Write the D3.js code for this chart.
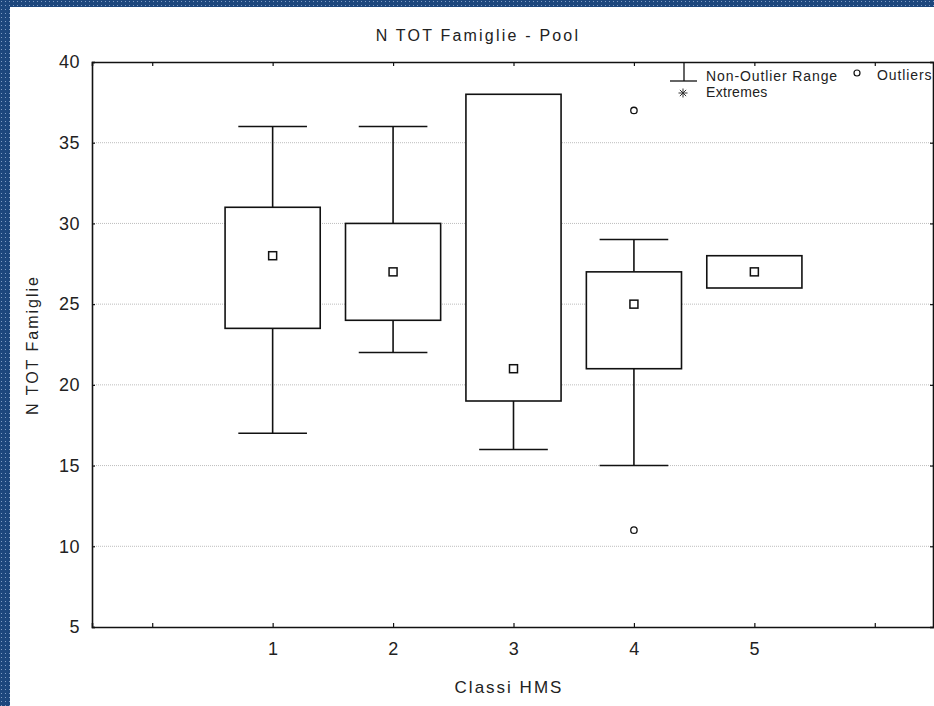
<!DOCTYPE html>
<html>
<head>
<meta charset="utf-8">
<script src="https://cdn.jsdelivr.net/npm/d3@7/dist/d3.min.js"></script>
<style>
  html, body { margin: 0; padding: 0; background: #fff; }
  svg { display: block; }
  text { font-family: "Liberation Sans", Arial, sans-serif; fill: #222; }
</style>
</head>
<body>
<svg id="chart" width="934" height="706"></svg>
<script>
// Box plot data per class
const categories = [1, 2, 3, 4, 5];
const medians    = [28, 27, 21, 25, 27];
const boxLow     = [23.5, 24, 19, 21, 26];
const boxHigh    = [31, 30, 38, 27, 28];
const whiskLow   = [17, 22, 16, 15, 26];
const whiskHigh  = [36, 36, 38, 29, 28];
const outliers   = [[], [], [], [37, 11], []];
const yTicks     = [5, 10, 15, 20, 25, 30, 35, 40];
const xTicks     = [0, 1, 2, 3, 4, 5, 6];

const svg = d3.select("#chart");
const W = 934, H = 706;

// Window frame (dark blue dotted border on left and top)
const defs = svg.append("defs");
const pat = defs.append("pattern").attr("id", "frameDots")
  .attr("width", 4).attr("height", 4).attr("patternUnits", "userSpaceOnUse");
pat.append("rect").attr("width", 4).attr("height", 4).attr("fill", "#1d477d");
pat.append("rect").attr("x", 1).attr("y", 1).attr("width", 1).attr("height", 1).attr("fill", "#7f9cc4");
svg.append("rect").attr("x", 0).attr("y", 0).attr("width", W).attr("height", H).attr("fill", "#fff");
svg.append("rect").attr("x", 0).attr("y", 0).attr("width", W).attr("height", 7).attr("fill", "url(#frameDots)");
svg.append("rect").attr("x", 0).attr("y", 0).attr("width", 10).attr("height", H).attr("fill", "url(#frameDots)");

const pLeft = 92, pRight = 935, pTop = 62, pBottom = 627;
const x = d3.scaleLinear().domain([-0.5, 6.5]).range([pLeft, pRight]);
const y = d3.scaleLinear().domain([5, 40]).range([pBottom, pTop]);
const step = x(1) - x(0);

// Horizontal dotted grid
svg.append("g").selectAll("line").data(yTicks.filter(d => d > 5 && d < 40)).join("line")
  .attr("x1", pLeft).attr("x2", pRight)
  .attr("y1", d => y(d)).attr("y2", d => y(d))
  .attr("stroke", "#bdbdbd").attr("stroke-width", 1).attr("stroke-dasharray", "1,1");

// Axes with inward ticks
const axL = svg.append("g").attr("transform", `translate(${pLeft},0)`)
  .call(d3.axisLeft(y).tickValues(yTicks).tickSize(-3).tickPadding(12));
const axR = svg.append("g").attr("transform", `translate(${pRight - 2},0)`)
  .call(d3.axisRight(y).tickValues(yTicks).tickSize(-3).tickFormat(""));
const axB = svg.append("g").attr("transform", `translate(0,${pBottom})`)
  .call(d3.axisBottom(x).tickValues(xTicks).tickSize(-4).tickPadding(15)
    .tickFormat(d => (d >= 1 && d <= 5) ? d : ""));
const axT = svg.append("g").attr("transform", `translate(0,${pTop})`)
  .call(d3.axisTop(x).tickValues(xTicks).tickSize(-4).tickFormat(""));
[axL, axR, axB, axT].forEach(g => {
  g.select(".domain").attr("stroke", "#111").attr("stroke-width", 1.6);
  g.selectAll(".tick line").attr("stroke", "#111").attr("stroke-width", 1.2);
  g.selectAll(".tick text").attr("font-size", 18).attr("fill", "#2a2a2a")
    .attr("letter-spacing", 0.5)
    .style("font-family", "'Liberation Sans', Arial, sans-serif");
});

// Boxes, whiskers, median markers
const boxW = step * 0.79, capW = step * 0.57;
const g = svg.append("g").attr("stroke", "#111").attr("stroke-width", 1.6).attr("fill", "none");
categories.forEach((c, i) => {
  const cx = x(c);
  if (whiskHigh[i] > boxHigh[i]) {
    g.append("line").attr("x1", cx).attr("x2", cx).attr("y1", y(whiskHigh[i])).attr("y2", y(boxHigh[i]));
    g.append("line").attr("x1", cx - capW / 2).attr("x2", cx + capW / 2).attr("y1", y(whiskHigh[i])).attr("y2", y(whiskHigh[i]));
  }
  if (whiskLow[i] < boxLow[i]) {
    g.append("line").attr("x1", cx).attr("x2", cx).attr("y1", y(boxLow[i])).attr("y2", y(whiskLow[i]));
    g.append("line").attr("x1", cx - capW / 2).attr("x2", cx + capW / 2).attr("y1", y(whiskLow[i])).attr("y2", y(whiskLow[i]));
  }
  g.append("rect").attr("x", cx - boxW / 2).attr("y", y(boxHigh[i]))
    .attr("width", boxW).attr("height", y(boxLow[i]) - y(boxHigh[i])).attr("fill", "#fff");
  g.append("rect").attr("x", cx - 4).attr("y", y(medians[i]) - 4).attr("width", 8).attr("height", 8)
    .attr("fill", "#fff").attr("stroke-width", 1.5);
  outliers[i].forEach(v => {
    g.append("circle").attr("cx", cx).attr("cy", y(v)).attr("r", 3.2).attr("stroke-width", 1.3);
  });
});

// Legend
const lg = svg.append("g");
lg.append("line").attr("x1", 684).attr("x2", 684).attr("y1", 63).attr("y2", 81).attr("stroke", "#111").attr("stroke-width", 1.3);
lg.append("line").attr("x1", 670).attr("x2", 697).attr("y1", 81).attr("y2", 81).attr("stroke", "#111").attr("stroke-width", 1.3);
lg.append("text").attr("x", 706).attr("y", 81).attr("font-size", 14).attr("letter-spacing", 0.9).text("Non-Outlier Range");
lg.append("circle").attr("cx", 857).attr("cy", 73).attr("r", 3).attr("fill", "none").attr("stroke", "#111").attr("stroke-width", 1.2);
lg.append("text").attr("x", 877).attr("y", 80).attr("font-size", 14).attr("letter-spacing", 0.9).text("Outliers");
// asterisk symbol for extremes
const sx = 683, sy = 93, sr = 4.5;
[[-sr, 0, sr, 0], [0, -sr, 0, sr], [-sr * 0.7, -sr * 0.7, sr * 0.7, sr * 0.7], [-sr * 0.7, sr * 0.7, sr * 0.7, -sr * 0.7]]
  .forEach(s => lg.append("line").attr("x1", sx + s[0]).attr("y1", sy + s[1]).attr("x2", sx + s[2]).attr("y2", sy + s[3])
    .attr("stroke", "#333").attr("stroke-width", 1));
lg.append("text").attr("x", 706).attr("y", 97).attr("font-size", 14).attr("letter-spacing", 0.3).text("Extremes");

// Titles
svg.append("text").attr("x", 478).attr("y", 41).attr("text-anchor", "middle").attr("font-size", 16)
  .attr("letter-spacing", 2.2).text("N TOT Famiglie - Pool");
svg.append("text").attr("x", 509).attr("y", 693).attr("text-anchor", "middle").attr("font-size", 17)
  .attr("letter-spacing", 2).text("Classi HMS");
svg.append("text").attr("transform", "translate(38,345) rotate(-90)").attr("text-anchor", "middle")
  .attr("font-size", 16).attr("letter-spacing", 2).text("N TOT Famiglie");
</script>
</body>
</html>
